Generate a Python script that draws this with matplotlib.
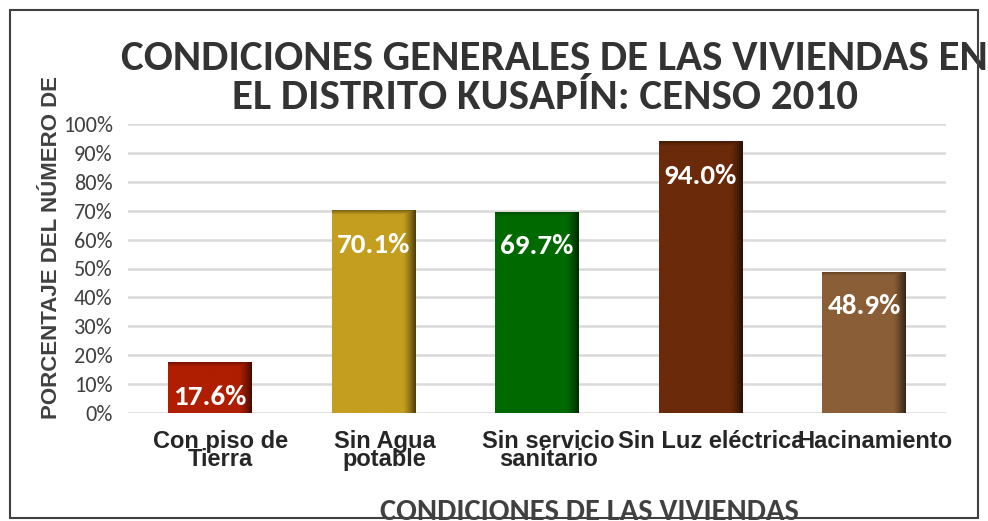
import numpy as np
import matplotlib
matplotlib.use('Agg')
from matplotlib import pyplot as plt
from matplotlib import colors as mcolors
from matplotlib import transforms as mtransforms
from matplotlib.patches import Rectangle

categories = ['Con piso de\nTierra', 'Sin Agua\npotable', 'Sin servicio\nsanitario',
              'Sin Luz eléctrica', 'Hacinamiento']
values = [17.6, 70.1, 69.7, 94.0, 48.9]
bar_colors = ['#B01E00', '#C49E1F', '#006A00', '#6B2A0A', '#8A5E36']
yticks = [0, 10, 20, 30, 40, 50, 60, 70, 80, 90, 100]

title_lines = ['CONDICIONES GENERALES DE LAS VIVIENDAS EN',
               'EL DISTRITO KUSAPÍN: CENSO 2010']
xlabel = 'CONDICIONES DE LAS VIVIENDAS'
ylabel = 'PORCENTAJE DEL NÚMERO DE'

calibri = ['Carlito', 'DejaVu Sans']
arial = ['Liberation Sans', 'DejaVu Sans']


def shade_bar(ax, patch, color):
    # darker band on the right and top edges, like the excel bevel
    x0, y0 = patch.get_x(), patch.get_y()
    w, h = patch.get_width(), patch.get_height()
    u = np.linspace(0, 1, 80)
    v = np.linspace(0, 1, 300)
    fx = np.clip((u - 0.85) / 0.15, 0, 1) ** 1.3
    edge = 1.5 / max(h, 1)
    fy = 0.6 * np.clip((v - (1 - edge)) / edge, 0, 1)
    f = np.maximum(fx[None, :], fy[:, None])
    base = np.array(mcolors.to_rgb(color))
    dark = base * 0.4
    img = base[None, None, :] * (1 - f[..., None]) + dark[None, None, :] * f[..., None]
    im = ax.imshow(img, extent=(x0, x0 + w, y0, y0 + h), origin='lower',
                   aspect='auto', zorder=3, interpolation='bilinear')
    im.set_clip_path(patch)


def main():
    fig = plt.figure(figsize=(9.88, 5.21), dpi=100)
    W, H = 988.0, 521.0

    # outer chart border
    fig.patches.append(Rectangle((10 / W, 3 / H), 968 / W, 508 / H,
                                 transform=fig.transFigure, fill=False,
                                 edgecolor='#404040', linewidth=1.5, zorder=10))

    ax = fig.add_axes([128 / W, 108 / H, 818 / W, 289 / H])
    x = np.arange(len(values))
    bars = ax.bar(x, values, width=0.51, color=bar_colors, zorder=2)
    for b, c in zip(bars, bar_colors):
        shade_bar(ax, b, c)

    for xi, v in zip(x, values):
        ax.text(xi, v - 12, f'{v:.1f}%', ha='center', va='center', color='white',
                fontsize=21, fontweight='bold', family=calibri, zorder=4)

    ax.set_xlim(-0.5, len(values) - 0.5)
    ax.set_ylim(0, 100)
    ax.set_yticks(yticks)
    ax.set_yticklabels([f'{t}%' for t in yticks], color='#404040', fontsize=16,
                       family=calibri)
    ax.yaxis.grid(True, color='#D9D9D9', linewidth=1.8, zorder=0)
    ax.set_axisbelow(True)
    for s in ax.spines.values():
        s.set_visible(False)
    ax.tick_params(axis='both', length=0)
    ax.tick_params(axis='y', pad=11)
    ax.set_xticks(x)
    ax.set_xticklabels(categories, fontsize=17, fontweight='bold', color='#262626',
                       family=arial, linespacing=0.75)
    ax.tick_params(axis='x', pad=12)
    shift = mtransforms.ScaledTranslation(11 / 100, 0, fig.dpi_scale_trans)
    for lbl in ax.get_xticklabels():
        lbl.set_transform(lbl.get_transform() + shift)

    fig.text(554 / W, 1 - 59 / H, title_lines[0], ha='center', va='center',
             fontsize=31, fontweight='bold', color='#333333', family=calibri)
    fig.text(545 / W, 1 - 97 / H, title_lines[1], ha='center', va='center',
             fontsize=31, fontweight='bold', color='#333333', family=calibri)
    fig.text(52 / W, 1 - 247 / H, ylabel, ha='center', va='center', rotation=90,
             fontsize=16, fontweight='bold', color='#404040', family=arial)
    fig.text(589 / W, 1 - 512 / H, xlabel, ha='center', va='center', fontsize=22,
             fontweight='bold', color='#404040', family=calibri)

    fig.savefig('out.png', dpi=100)


if __name__ == '__main__':
    main()
